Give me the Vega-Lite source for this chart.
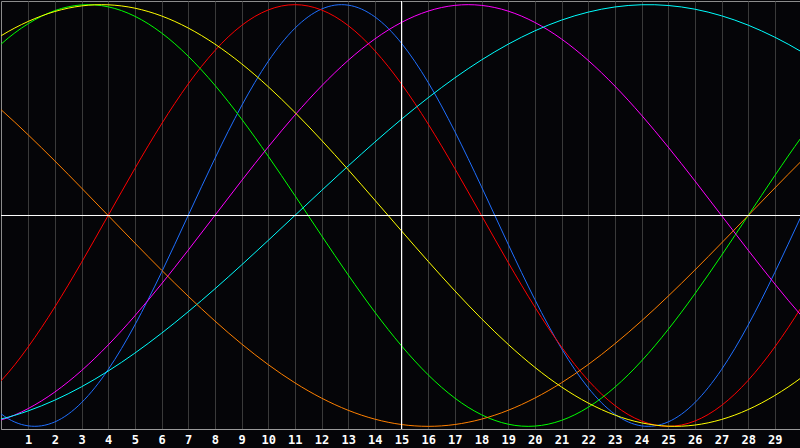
{
"$schema": "https://vega.github.io/schema/vega-lite/v6.json",
"width": 800,
"height": 428,
"padding": 0,
"background": "#050508",
"config": {"view": {"stroke": "#8c8c8c", "strokeWidth": 1}},
"data": {"values": [
{"s":"physical","d":-1,"v":-0.8170},{"s":"physical","d":0,"v":-0.9423},{"s":"physical","d":1,"v":-0.9977},{"s":"physical","d":2,"v":-0.9791},{"s":"physical","d":3,"v":-0.8879},{"s":"physical","d":4,"v":-0.7308},{"s":"physical","d":5,"v":-0.5196},{"s":"physical","d":6,"v":-0.2698},{"s":"physical","d":7,"v":0},{"s":"physical","d":8,"v":0.2698},{"s":"physical","d":9,"v":0.5196},{"s":"physical","d":10,"v":0.7308},{"s":"physical","d":11,"v":0.8879},{"s":"physical","d":12,"v":0.9791},{"s":"physical","d":13,"v":0.9977},{"s":"physical","d":14,"v":0.9423},{"s":"physical","d":15,"v":0.8170},{"s":"physical","d":16,"v":0.6311},{"s":"physical","d":17,"v":0.3984},{"s":"physical","d":18,"v":0.1362},{"s":"physical","d":19,"v":-0.1362},{"s":"physical","d":20,"v":-0.3984},{"s":"physical","d":21,"v":-0.6311},{"s":"physical","d":22,"v":-0.8170},{"s":"physical","d":23,"v":-0.9423},{"s":"physical","d":24,"v":-0.9977},{"s":"physical","d":25,"v":-0.9791},{"s":"physical","d":26,"v":-0.8879},{"s":"physical","d":27,"v":-0.7308},{"s":"physical","d":28,"v":-0.5196},{"s":"physical","d":29,"v":-0.2698},{"s":"physical","d":30,"v":0},{"s":"physical","d":31,"v":0.2698},
{"s":"emotional","d":-1,"v":-0.9010},{"s":"emotional","d":0,"v":-0.7818},{"s":"emotional","d":1,"v":-0.6235},{"s":"emotional","d":2,"v":-0.4339},{"s":"emotional","d":3,"v":-0.2225},{"s":"emotional","d":4,"v":0},{"s":"emotional","d":5,"v":0.2225},{"s":"emotional","d":6,"v":0.4339},{"s":"emotional","d":7,"v":0.6235},{"s":"emotional","d":8,"v":0.7818},{"s":"emotional","d":9,"v":0.9010},{"s":"emotional","d":10,"v":0.9749},{"s":"emotional","d":11,"v":1},{"s":"emotional","d":12,"v":0.9749},{"s":"emotional","d":13,"v":0.9010},{"s":"emotional","d":14,"v":0.7818},{"s":"emotional","d":15,"v":0.6235},{"s":"emotional","d":16,"v":0.4339},{"s":"emotional","d":17,"v":0.2225},{"s":"emotional","d":18,"v":0},{"s":"emotional","d":19,"v":-0.2225},{"s":"emotional","d":20,"v":-0.4339},{"s":"emotional","d":21,"v":-0.6235},{"s":"emotional","d":22,"v":-0.7818},{"s":"emotional","d":23,"v":-0.9010},{"s":"emotional","d":24,"v":-0.9749},{"s":"emotional","d":25,"v":-1},{"s":"emotional","d":26,"v":-0.9749},{"s":"emotional","d":27,"v":-0.9010},{"s":"emotional","d":28,"v":-0.7818},{"s":"emotional","d":29,"v":-0.6235},{"s":"emotional","d":30,"v":-0.4339},{"s":"emotional","d":31,"v":-0.2225},
{"s":"intellectual","d":-1,"v":0.6901},{"s":"intellectual","d":0,"v":0.8146},{"s":"intellectual","d":1,"v":0.9096},{"s":"intellectual","d":2,"v":0.9718},{"s":"intellectual","d":3,"v":0.9989},{"s":"intellectual","d":4,"v":0.9898},{"s":"intellectual","d":5,"v":0.9450},{"s":"intellectual","d":6,"v":0.8660},{"s":"intellectual","d":7,"v":0.7557},{"s":"intellectual","d":8,"v":0.6182},{"s":"intellectual","d":9,"v":0.4582},{"s":"intellectual","d":10,"v":0.2817},{"s":"intellectual","d":11,"v":0.0951},{"s":"intellectual","d":12,"v":-0.0951},{"s":"intellectual","d":13,"v":-0.2817},{"s":"intellectual","d":14,"v":-0.4582},{"s":"intellectual","d":15,"v":-0.6182},{"s":"intellectual","d":16,"v":-0.7557},{"s":"intellectual","d":17,"v":-0.8660},{"s":"intellectual","d":18,"v":-0.9450},{"s":"intellectual","d":19,"v":-0.9898},{"s":"intellectual","d":20,"v":-0.9989},{"s":"intellectual","d":21,"v":-0.9718},{"s":"intellectual","d":22,"v":-0.9096},{"s":"intellectual","d":23,"v":-0.8146},{"s":"intellectual","d":24,"v":-0.6901},{"s":"intellectual","d":25,"v":-0.5406},{"s":"intellectual","d":26,"v":-0.3717},{"s":"intellectual","d":27,"v":-0.1893},{"s":"intellectual","d":28,"v":0},{"s":"intellectual","d":29,"v":0.1893},{"s":"intellectual","d":30,"v":0.3717},{"s":"intellectual","d":31,"v":0.5406},
{"s":"intuitive","d":-1,"v":-0.9966},{"s":"intuitive","d":0,"v":-0.9694},{"s":"intuitive","d":1,"v":-0.9158},{"s":"intuitive","d":2,"v":-0.8372},{"s":"intuitive","d":3,"v":-0.7357},{"s":"intuitive","d":4,"v":-0.6142},{"s":"intuitive","d":5,"v":-0.4759},{"s":"intuitive","d":6,"v":-0.3247},{"s":"intuitive","d":7,"v":-0.1646},{"s":"intuitive","d":8,"v":0},{"s":"intuitive","d":9,"v":0.1646},{"s":"intuitive","d":10,"v":0.3247},{"s":"intuitive","d":11,"v":0.4759},{"s":"intuitive","d":12,"v":0.6142},{"s":"intuitive","d":13,"v":0.7357},{"s":"intuitive","d":14,"v":0.8372},{"s":"intuitive","d":15,"v":0.9158},{"s":"intuitive","d":16,"v":0.9694},{"s":"intuitive","d":17,"v":0.9966},{"s":"intuitive","d":18,"v":0.9966},{"s":"intuitive","d":19,"v":0.9694},{"s":"intuitive","d":20,"v":0.9158},{"s":"intuitive","d":21,"v":0.8372},{"s":"intuitive","d":22,"v":0.7357},{"s":"intuitive","d":23,"v":0.6142},{"s":"intuitive","d":24,"v":0.4759},{"s":"intuitive","d":25,"v":0.3247},{"s":"intuitive","d":26,"v":0.1646},{"s":"intuitive","d":27,"v":0},{"s":"intuitive","d":28,"v":-0.1646},{"s":"intuitive","d":29,"v":-0.3247},{"s":"intuitive","d":30,"v":-0.4759},{"s":"intuitive","d":31,"v":-0.6142},
{"s":"spiritual","d":-1,"v":-0.9890},{"s":"spiritual","d":0,"v":-0.9646},{"s":"spiritual","d":1,"v":-0.9267},{"s":"spiritual","d":2,"v":-0.8758},{"s":"spiritual","d":3,"v":-0.8125},{"s":"spiritual","d":4,"v":-0.7378},{"s":"spiritual","d":5,"v":-0.6528},{"s":"spiritual","d":6,"v":-0.5586},{"s":"spiritual","d":7,"v":-0.4566},{"s":"spiritual","d":8,"v":-0.3482},{"s":"spiritual","d":9,"v":-0.2349},{"s":"spiritual","d":10,"v":-0.1183},{"s":"spiritual","d":11,"v":0},{"s":"spiritual","d":12,"v":0.1183},{"s":"spiritual","d":13,"v":0.2349},{"s":"spiritual","d":14,"v":0.3482},{"s":"spiritual","d":15,"v":0.4566},{"s":"spiritual","d":16,"v":0.5586},{"s":"spiritual","d":17,"v":0.6528},{"s":"spiritual","d":18,"v":0.7378},{"s":"spiritual","d":19,"v":0.8125},{"s":"spiritual","d":20,"v":0.8758},{"s":"spiritual","d":21,"v":0.9267},{"s":"spiritual","d":22,"v":0.9646},{"s":"spiritual","d":23,"v":0.9890},{"s":"spiritual","d":24,"v":0.9996},{"s":"spiritual","d":25,"v":0.9961},{"s":"spiritual","d":26,"v":0.9786},{"s":"spiritual","d":27,"v":0.9473},{"s":"spiritual","d":28,"v":0.9028},{"s":"spiritual","d":29,"v":0.8456},{"s":"spiritual","d":30,"v":0.7766},{"s":"spiritual","d":31,"v":0.6965},
{"s":"awareness","d":-1,"v":0.6088},{"s":"awareness","d":0,"v":0.5},{"s":"awareness","d":1,"v":0.3827},{"s":"awareness","d":2,"v":0.2588},{"s":"awareness","d":3,"v":0.1305},{"s":"awareness","d":4,"v":0},{"s":"awareness","d":5,"v":-0.1305},{"s":"awareness","d":6,"v":-0.2588},{"s":"awareness","d":7,"v":-0.3827},{"s":"awareness","d":8,"v":-0.5},{"s":"awareness","d":9,"v":-0.6088},{"s":"awareness","d":10,"v":-0.7071},{"s":"awareness","d":11,"v":-0.7934},{"s":"awareness","d":12,"v":-0.8660},{"s":"awareness","d":13,"v":-0.9239},{"s":"awareness","d":14,"v":-0.9659},{"s":"awareness","d":15,"v":-0.9914},{"s":"awareness","d":16,"v":-1},{"s":"awareness","d":17,"v":-0.9914},{"s":"awareness","d":18,"v":-0.9659},{"s":"awareness","d":19,"v":-0.9239},{"s":"awareness","d":20,"v":-0.8660},{"s":"awareness","d":21,"v":-0.7934},{"s":"awareness","d":22,"v":-0.7071},{"s":"awareness","d":23,"v":-0.6088},{"s":"awareness","d":24,"v":-0.5},{"s":"awareness","d":25,"v":-0.3827},{"s":"awareness","d":26,"v":-0.2588},{"s":"awareness","d":27,"v":-0.1305},{"s":"awareness","d":28,"v":0},{"s":"awareness","d":29,"v":0.1305},{"s":"awareness","d":30,"v":0.2588},{"s":"awareness","d":31,"v":0.3827},
{"s":"aesthetic","d":-1,"v":0.7686},{"s":"aesthetic","d":0,"v":0.8536},{"s":"aesthetic","d":1,"v":0.9204},{"s":"aesthetic","d":2,"v":0.9675},{"s":"aesthetic","d":3,"v":0.9940},{"s":"aesthetic","d":4,"v":0.9993},{"s":"aesthetic","d":5,"v":0.9834},{"s":"aesthetic","d":6,"v":0.9465},{"s":"aesthetic","d":7,"v":0.8894},{"s":"aesthetic","d":8,"v":0.8133},{"s":"aesthetic","d":9,"v":0.7200},{"s":"aesthetic","d":10,"v":0.6112},{"s":"aesthetic","d":11,"v":0.4894},{"s":"aesthetic","d":12,"v":0.3572},{"s":"aesthetic","d":13,"v":0.2174},{"s":"aesthetic","d":14,"v":0.0730},{"s":"aesthetic","d":15,"v":-0.0730},{"s":"aesthetic","d":16,"v":-0.2174},{"s":"aesthetic","d":17,"v":-0.3572},{"s":"aesthetic","d":18,"v":-0.4894},{"s":"aesthetic","d":19,"v":-0.6112},{"s":"aesthetic","d":20,"v":-0.7200},{"s":"aesthetic","d":21,"v":-0.8133},{"s":"aesthetic","d":22,"v":-0.8894},{"s":"aesthetic","d":23,"v":-0.9465},{"s":"aesthetic","d":24,"v":-0.9834},{"s":"aesthetic","d":25,"v":-0.9993},{"s":"aesthetic","d":26,"v":-0.9940},{"s":"aesthetic","d":27,"v":-0.9675},{"s":"aesthetic","d":28,"v":-0.9204},{"s":"aesthetic","d":29,"v":-0.8536},{"s":"aesthetic","d":30,"v":-0.7686},{"s":"aesthetic","d":31,"v":-0.6673}
]},
"layer": [
{"mark": {"type": "line", "strokeWidth": 1, "interpolate": "natural", "clip": true},
 "encoding": {
  "x": {"field": "d", "type": "quantitative", "scale": {"domain": [-0.01875, 29.98125], "nice": false, "zero": false},
        "axis": {"values": [1,2,3,4,5,6,7,8,9,10,11,12,13,14,15,16,17,18,19,20,21,22,23,24,25,26,27,28,29],
                 "tickCount": 60, "format": "d",
                 "title": null, "grid": true, "gridColor": "#3a3a3a", "gridWidth": 1, "ticks": false,
                 "domainColor": "#9a9a9a", "domainWidth": 1, "labelColor": "#ffffff", "labelFont": "DejaVu Sans Mono",
                 "labelFontWeight": "bold", "labelFontSize": 12, "labelBaseline": "alphabetic", "labelPadding": 14,
                 "labelFlush": false, "labelOverlap": false, "labelBound": false, "minExtent": 20}},
  "y": {"field": "v", "type": "quantitative", "scale": {"domain": [-1.01263, 1.01737], "nice": false, "zero": false}, "axis": null},
  "color": {"field": "s", "type": "nominal",
            "scale": {"domain": ["physical", "emotional", "intellectual", "intuitive", "spiritual", "awareness", "aesthetic"],
                      "range": ["#1f6fff", "#ff0000", "#00ff00", "#ff00ff", "#00ffff", "#ff8000", "#ffff00"]},
            "legend": null}
 }},
{"data": {"values": [{}]}, "mark": {"type": "rule", "color": "#ffffff", "strokeWidth": 1}, "encoding": {"y": {"datum": 0}}},
{"data": {"values": [{}]}, "mark": {"type": "rule", "color": "#ffffff", "strokeWidth": 1}, "encoding": {"x": {"datum": 15}}}
]
}
